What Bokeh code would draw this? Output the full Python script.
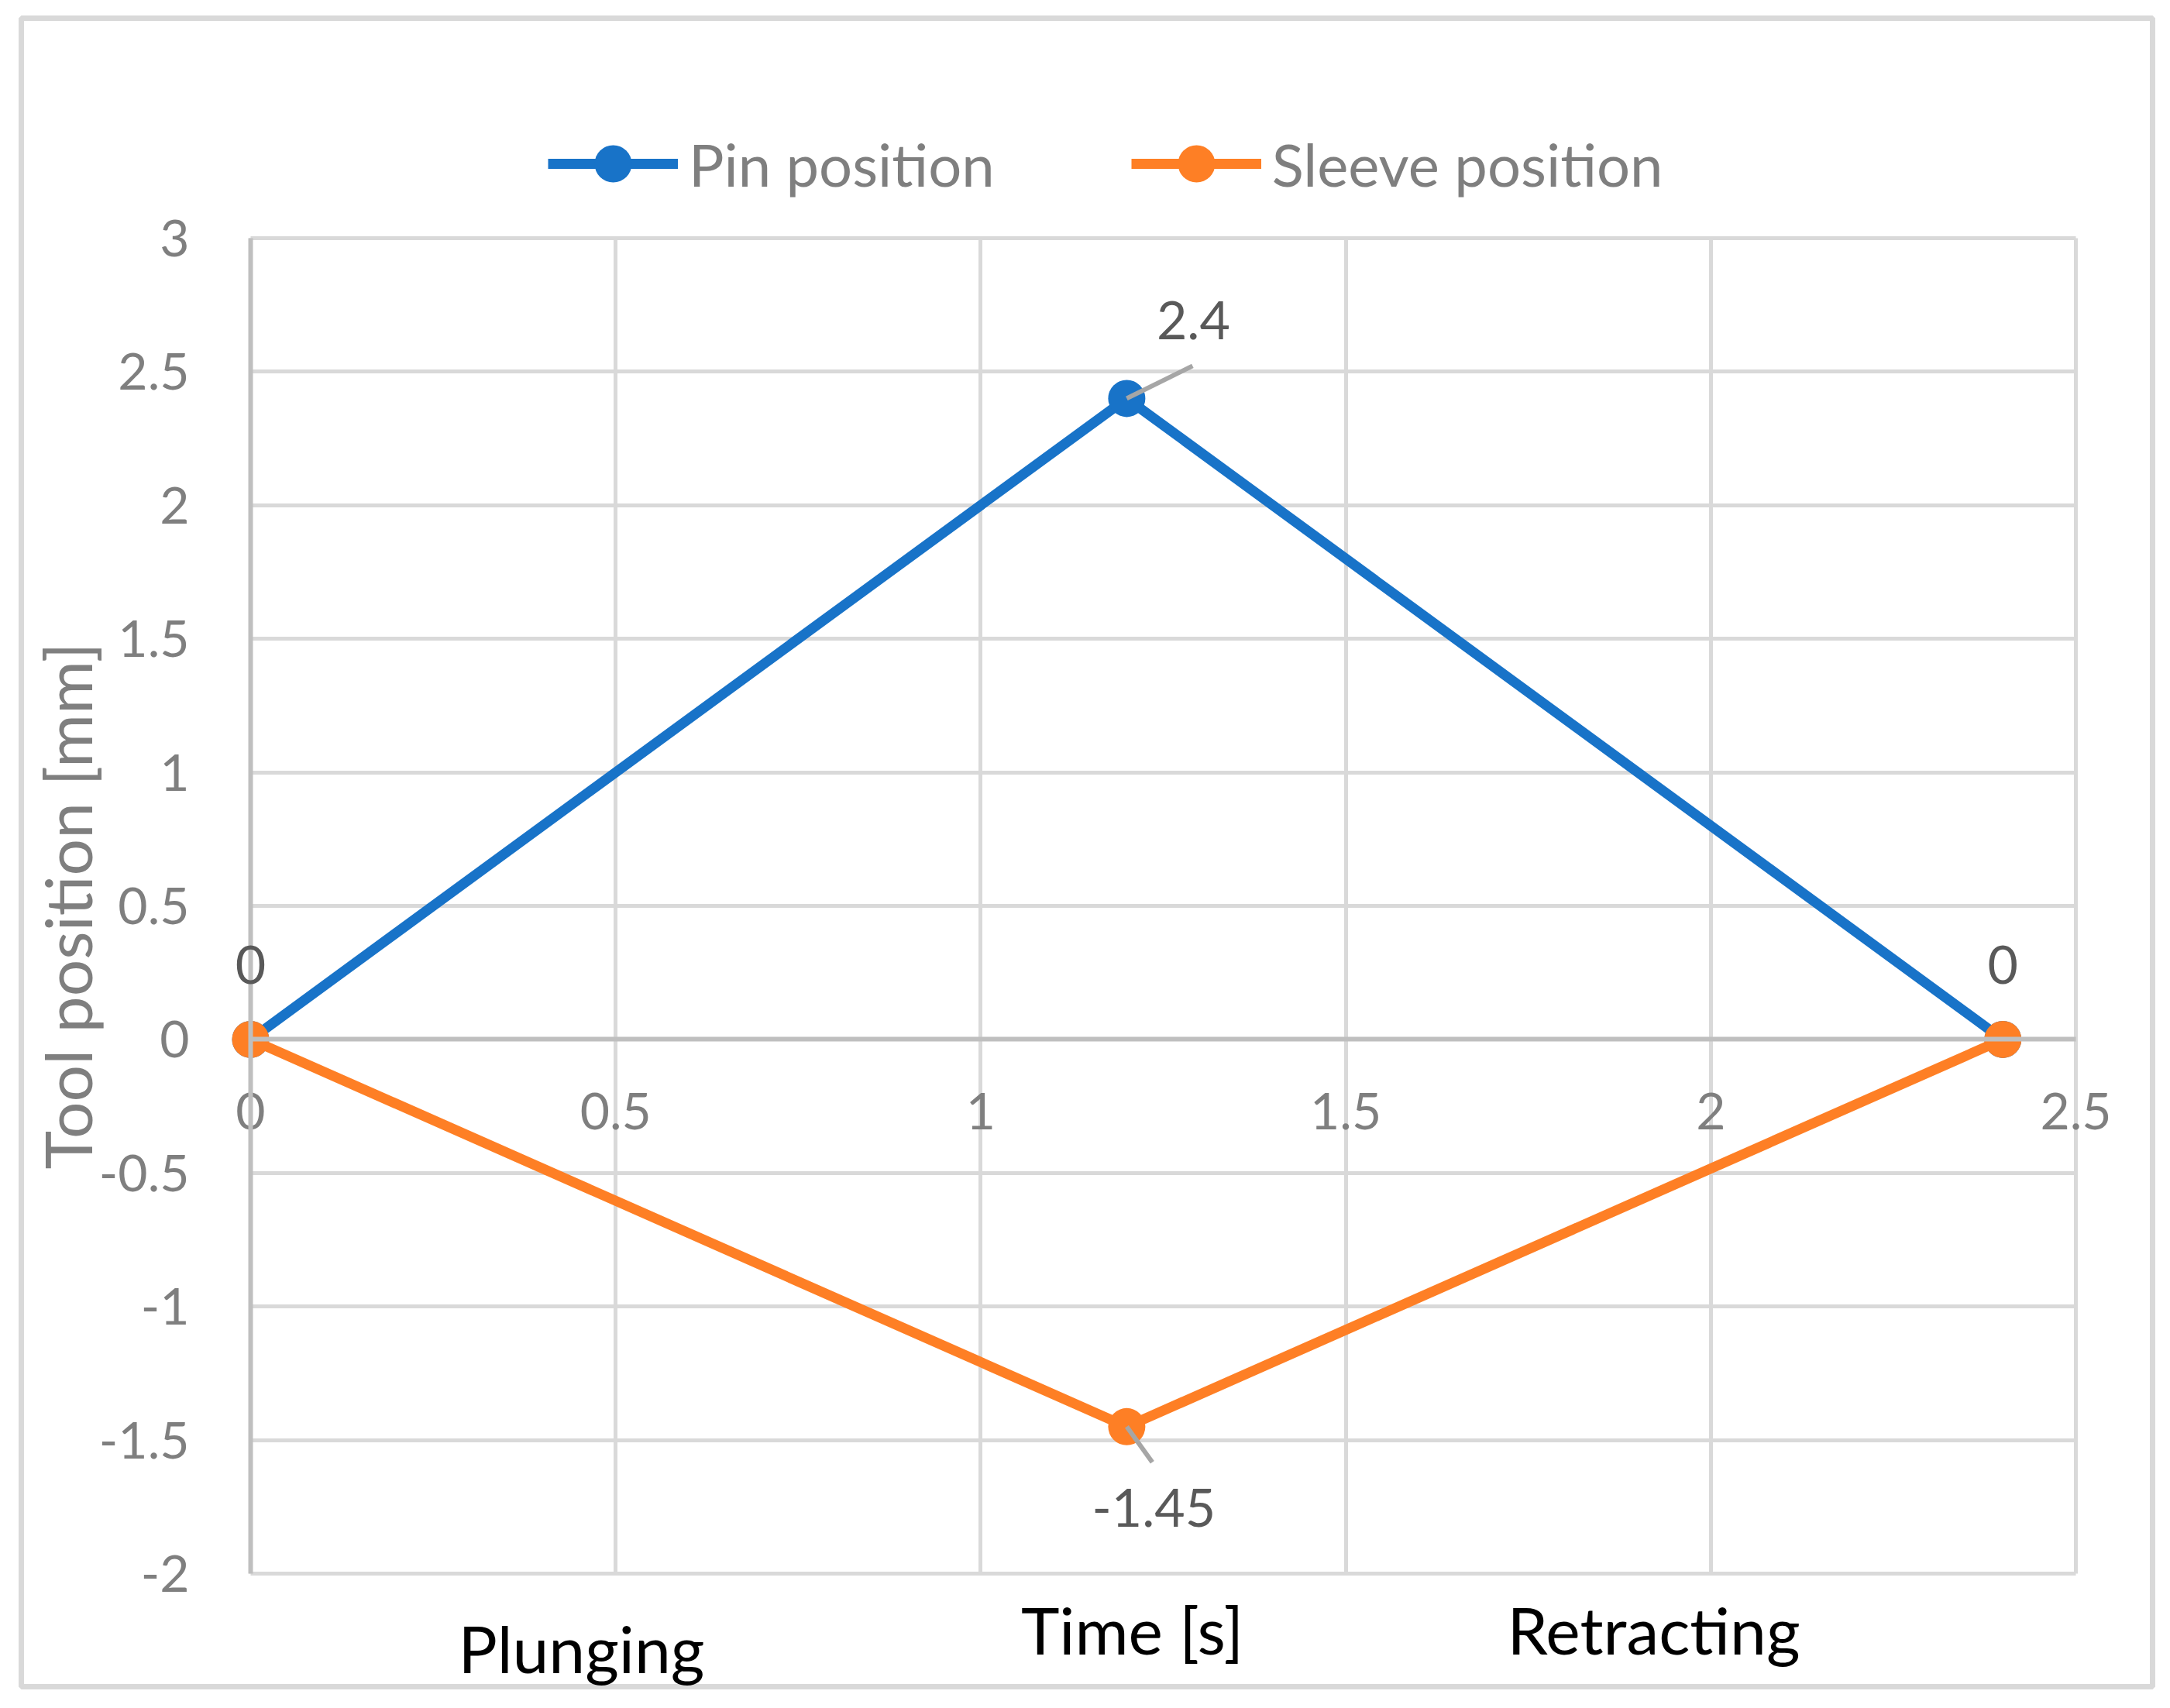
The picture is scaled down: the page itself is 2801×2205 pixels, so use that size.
from bokeh.plotting import figure
from bokeh.models import Legend, LegendItem, Label, FixedTicker, Range1d
from bokeh.embed import file_html
from bokeh.resources import INLINE

# ---- data ----
time_s = [0, 1.2, 2.4]
pin_position = [0, 2.4, 0]
sleeve_position = [0, -1.45, 0]

x_ticks = [0, 0.5, 1, 1.5, 2, 2.5]
x_tick_labels = ["0", "0.5", "1", "1.5", "2", "2.5"]
y_ticks = [-2, -1.5, -1, -0.5, 0, 0.5, 1, 1.5, 2, 2.5, 3]
y_tick_labels = ["-2", "-1.5", "-1", "-0.5", "0", "0.5", "1", "1.5", "2", "2.5", "3"]

series_names = ["Pin position", "Sleeve position"]
x_title = "Time [s]"
y_title = "Tool position [mm]"
phase_names = ["Plunging", "Retracting"]

# ---- style ----
FONT = "Lato"
BLUE = "#1873c8"
ORANGE = "#fe7f25"
GRID = "#d9d9d9"
AXIS = "#bfbfbf"
TICK_TXT = "#7f7f7f"
DLBL_TXT = "#595959"

# plot-area geometry (page pixels) and chart-area (frame) geometry
PA_L, PA_R, PA_T, PA_B = 323, 2679, 307, 2031
CH_L, CH_R, CH_T, CH_B = 27, 2778, 23, 2177
XMIN, XMAX = x_ticks[0], x_ticks[-1]
YMIN, YMAX = y_ticks[0], y_ticks[-1]
ppx = (PA_R - PA_L) / (XMAX - XMIN)
ppy = (PA_B - PA_T) / (YMAX - YMIN)

x_range = Range1d(XMIN - (PA_L - CH_L) / ppx, XMAX + (CH_R - PA_R) / ppx)
y_range = Range1d(YMIN - (CH_B - PA_B) / ppy, YMAX + (PA_T - CH_T) / ppy)

p = figure(frame_width=CH_R - CH_L, frame_height=CH_B - CH_T,
           x_range=x_range, y_range=y_range,
           output_backend="svg", toolbar_location=None,
           min_border_left=CH_L, min_border_right=4,
           min_border_top=CH_T, min_border_bottom=4,
           background_fill_color="white", border_fill_color="white")

# chart border
p.outline_line_color = GRID
p.outline_line_width = 7

# grids limited to the plot area
p.xgrid.ticker = FixedTicker(ticks=x_ticks)
p.ygrid.ticker = FixedTicker(ticks=y_ticks)
p.xgrid.bounds = (XMIN, XMAX)
p.ygrid.bounds = (YMIN, YMAX)
p.xgrid.cross_bounds = (YMIN, YMAX)
p.ygrid.cross_bounds = (XMIN, XMAX)
for g in (p.xgrid, p.ygrid):
    g.grid_line_color = GRID
    g.grid_line_width = 5

# x axis crossing at y = 0
xa = p.xaxis[0]
xa.fixed_location = 0
xa.bounds = (XMIN, XMAX)
xa.ticker = FixedTicker(ticks=x_ticks)
xa.major_label_overrides = {t: s for t, s in zip(x_ticks, x_tick_labels)}
xa.axis_line_color = AXIS
xa.axis_line_width = 6
xa.major_tick_line_color = None
xa.minor_tick_line_color = None
xa.major_label_text_font = FONT
xa.major_label_text_font_size = "66px"
xa.major_label_text_color = TICK_TXT
xa.major_label_standoff = 63

# y axis at x = 0
ya = p.yaxis[0]
ya.fixed_location = 0
ya.bounds = (YMIN, YMAX)
ya.ticker = FixedTicker(ticks=y_ticks)
ya.major_label_overrides = {t: s for t, s in zip(y_ticks, y_tick_labels)}
ya.axis_line_color = AXIS
ya.axis_line_width = 6
ya.major_tick_line_color = None
ya.minor_tick_line_color = None
ya.major_label_text_font = FONT
ya.major_label_text_font_size = "66px"
ya.major_label_text_color = TICK_TXT
ya.major_label_standoff = 73
ya.axis_label = y_title
ya.axis_label_text_font = FONT
ya.axis_label_text_font_size = "84px"
ya.axis_label_text_font_style = "normal"
ya.axis_label_text_color = TICK_TXT
ya.axis_label_standoff = -12

# series
LW, MS = 13, 48
pin_line = p.line(time_s, pin_position, line_color=BLUE, line_width=LW)
pin_dots = p.scatter(time_s, pin_position, size=MS, fill_color=BLUE, line_color=None)
sl_line = p.line(time_s, sleeve_position, line_color=ORANGE, line_width=LW)
sl_dots = p.scatter(time_s, sleeve_position, size=MS, fill_color=ORANGE, line_color=None)

# data labels
def fmt(v):
    return "%g" % v

def add_label(x, y, dx, dy, lead=None):
    # dx, dy: pixel offset of the label centre (dy positive upward)
    if lead is not None:
        lx, ly = lead
        p.segment(x0=[x], y0=[y], x1=[x + lx / ppx], y1=[y + ly / ppy],
                  line_color="#a6a6a6", line_width=6)
    p.add_layout(Label(x=x, y=y, x_offset=dx, y_offset=dy, text=fmt(y),
                       text_font=FONT, text_font_size="68px", text_color=DLBL_TXT,
                       text_align="center", text_baseline="middle"))

add_label(time_s[0], pin_position[0], 0, 96)
add_label(time_s[2], pin_position[2], 0, 96)
add_label(time_s[1], pin_position[1], 86, 101, lead=(85, 42))
add_label(time_s[1], sleeve_position[1], 35, -105, lead=(33, -46))

# titles below the plot area
def below_title(text, page_x, drop):
    p.add_layout(Label(x=XMIN + (page_x - PA_L) / ppx, y=YMIN, y_offset=-drop,
                       text=text, text_font=FONT, text_font_size="84px",
                       text_color="black", text_align="center", text_baseline="middle"))

below_title(x_title, 1461, 72)
below_title(phase_names[0], 750, 96)
below_title(phase_names[1], 2134, 72)

# legend
legend = Legend(items=[LegendItem(label=series_names[0], renderers=[pin_line, pin_dots]),
                       LegendItem(label=series_names[1], renderers=[sl_line, sl_dots])],
                orientation="horizontal",
                location=(707 - CH_L, (CH_B - 211) - 60),
                glyph_width=168, glyph_height=120, label_standoff=14, spacing=176,
                padding=0, margin=0, border_line_color=None, background_fill_alpha=0,
                label_text_font=FONT, label_text_font_size="76px",
                label_text_color=TICK_TXT, label_text_baseline="middle")
p.add_layout(legend, "center")

open("out.html", "w").write(file_html(p, INLINE))
